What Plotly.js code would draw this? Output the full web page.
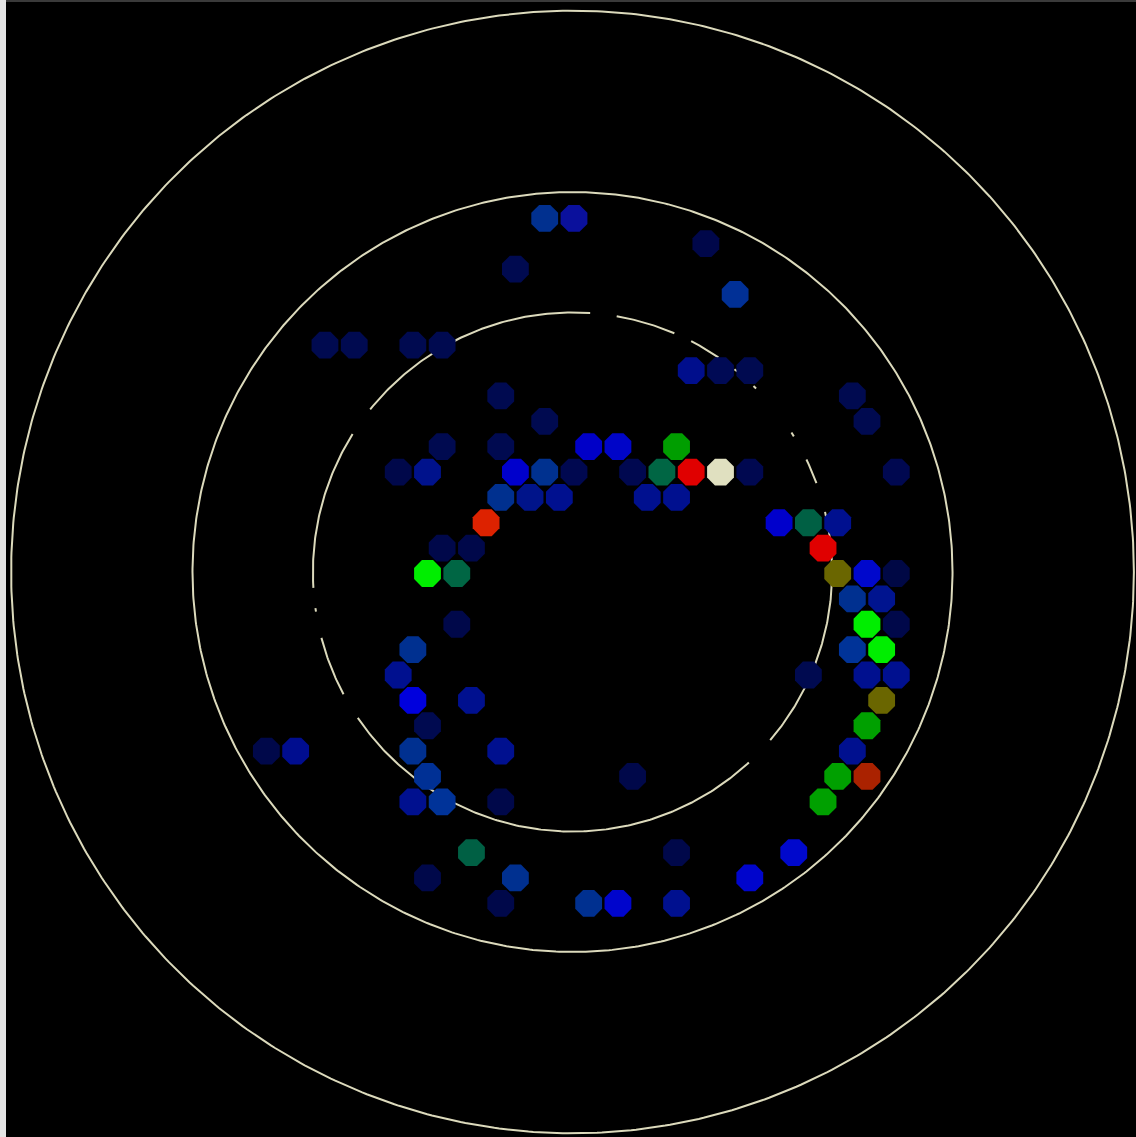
<!DOCTYPE html>
<html><head><meta charset="utf-8">
<script src="https://cdn.plot.ly/plotly-3.0.1.min.js"></script>
<style>
html,body{margin:0;padding:0;width:1136px;height:1137px;overflow:hidden;background:#e4e4e4;}
#topband{position:absolute;left:6px;top:0;width:1130px;height:2px;background:#3a3a3a;}
#chart{position:absolute;left:6px;top:2px;width:1130px;height:1135px;}
</style></head><body>
<div id="topband"></div><div id="chart"></div>
<script>
// Hex-grid cells: column (half steps on odd rows), row index, colour
const hexRow = [
 14,14,
 13,
 12,
 11,
 9,9,9,9,
 8,8,8,
 7,7,
 6,6,
 5,5,5,5,5,
 4,4,4,4,4,4,4,4,4,4,4,
 3,3,3,3,3,
 2,2,2,2,
 1,1,1,
 0,0,0,0,0,
 -1,-1,
 -2,-2,-2,
 -3,-3,-3,
 -4,-4,-4,-4,
 -5,-5,-5,
 -6,-6,
 -7,-7,-7,-7,-7,
 -8,-8,-8,-8,
 -9,-9,-9,-9,
 -11,-11,-11,
 -12,-12,-12,
 -13,-13,-13,-13
];
const hexCol = [
 -1,0,
 4.5,
 -2,
 5.5,
 -8.5,-7.5,-5.5,-4.5,
 4,5,6,
 -2.5,9.5,
 -1,10,
 -4.5,-2.5,0.5,1.5,3.5,
 -6,-5,-2,-1,0,2,3,4,5,6,11,
 -2.5,-1.5,-0.5,2.5,3.5,
 -3,7,8,9,
 -4.5,-3.5,8.5,
 -5,-4,9,10,11,
 9.5,10.5,
 -4,10,11,
 -5.5,9.5,10.5,
 -6,8,10,11,
 -5.5,-3.5,10.5,
 -5,10,
 -10.5,-9.5,-5.5,-2.5,9.5,
 -5,2,9,10,
 -5.5,-4.5,-2.5,8.5,
 -3.5,3.5,7.5,
 -5,-2,6,
 -2.5,0.5,1.5,3.5
];
const cellColor = [
 '#01308f','#0a109c',
 '#00074a',
 '#000a50',
 '#013096',
 '#000a50','#000a50','#000a50','#000a50',
 '#000e8c','#000a55','#000a50',
 '#000a50','#000a50',
 '#000a50','#000a50',
 '#000a50','#000a50','#0000c8','#0005c8','#009e00',
 '#00084a','#00128c','#0000cc','#00318f','#000850','#000850','#006644','#e00000','#e0e0c0','#000850','#000850',
 '#00308f','#00148a','#00108f','#00108f','#00108f',
 '#dd2200','#0000cc','#006044','#00108f',
 '#00084a','#00084a','#e00000',
 '#00ee00','#006644','#6a6600','#0008cc','#000845',
 '#003090','#00148f',
 '#00084a','#00ee00','#00084a',
 '#003090','#003398','#00ee00',
 '#00108f','#000a50','#00108f','#00108f',
 '#0000dd','#00108f','#6a6600',
 '#000a50','#00a000',
 '#00084a','#000d8f','#003090','#00108f','#00108f',
 '#003095','#00084a','#00a000','#aa2200',
 '#00108f','#003399','#00084a','#00a000',
 '#006044','#00084a','#0008cc',
 '#00084a','#003090','#0005cc',
 '#00084a','#003090','#0005cc','#00108f'
];

// Rings (centre and radius in column units) and the visible arcs of each ring (degrees)
const ringCenter = [-0.051, 0.059];
const ringRadius = [8.86, 12.97, 19.16];
const ringArcs = [
  [[-40.4,13.4],[20,25.7],[31.5,32.5],[45,45.8],[50.6,51.4],[55.8,62.8],[66.9,80.2],[86.1,141.2],[147.9,183.5],[188,188.8],[194.7,208.1],[214.2,312.8]],
  [[0,360]],
  [[0,360]]
];
const rowStep = Math.sqrt(3)/2; // hex row height relative to column spacing

const rx = [], ry = [];
ringRadius.forEach((r, i) => {
  ringArcs[i].forEach(([a0, a1]) => {
    const n = Math.max(2, Math.ceil((a1 - a0) / 0.5));
    for (let k = 0; k <= n; k++) {
      const t = (a0 + (a1 - a0) * k / n) * Math.PI / 180;
      rx.push(ringCenter[0] + r * Math.cos(t));
      ry.push(ringCenter[1] + r * Math.sin(t) / rowStep);
    }
    rx.push(null); ry.push(null);
  });
});

const traces = [
  {type:'scatter', mode:'lines', x:rx, y:ry, connectgaps:false,
   line:{color:'#dcdabc', width:2}, hoverinfo:'skip', showlegend:false},
  {type:'scatter', mode:'markers', x:hexCol, y:hexRow,
   marker:{symbol:'octagon', size:29, color:cellColor, line:{width:0}},
   hoverinfo:'skip', showlegend:false}
];

const layout = {
  width:1130, height:1135, autosize:false,
  margin:{l:0,r:0,t:0,b:0,pad:0},
  paper_bgcolor:'#000000', plot_bgcolor:'#000000',
  xaxis:{range:[-19.386,19.181], visible:false, fixedrange:true},
  yaxis:{range:[-22.211,22.527], visible:false, fixedrange:true},
  showlegend:false
};
Plotly.newPlot('chart', traces, layout, {staticPlot:true, displayModeBar:false});
</script>
</body></html>
